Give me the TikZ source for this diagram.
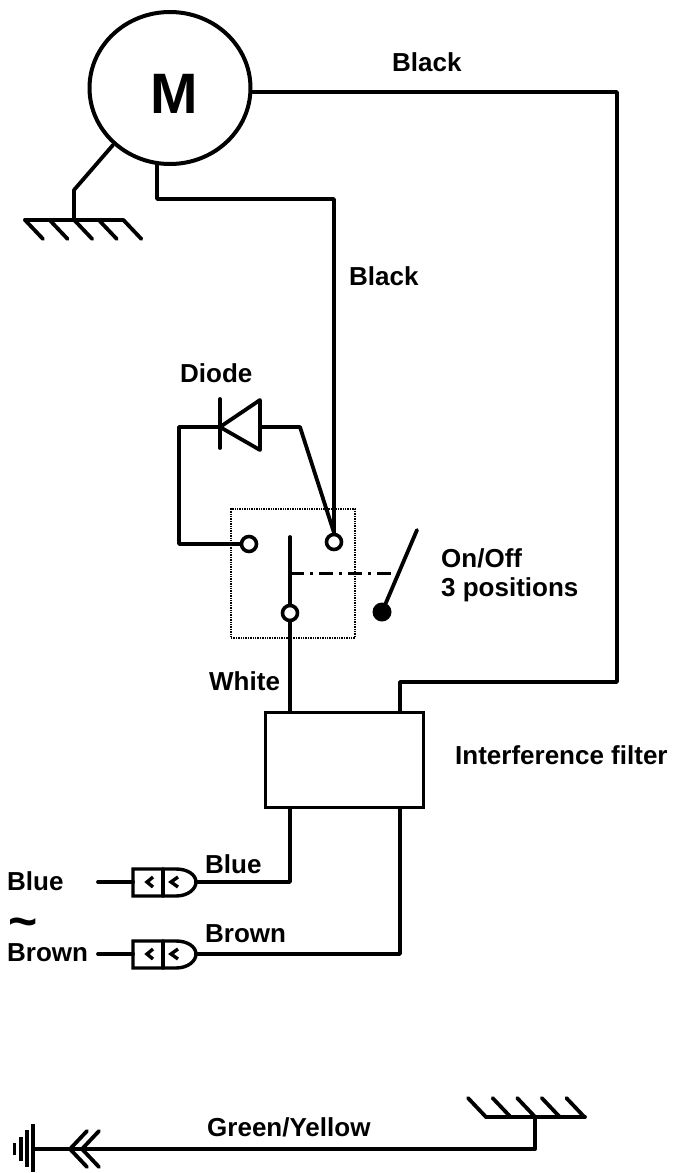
\documentclass[tikz,border=0pt]{standalone}
\usepackage{fontspec}
\setmainfont{Liberation Sans}
\usetikzlibrary{shapes.geometric}
\tikzset{
  wire/.style={line width=3.8pt,line cap=round,line join=round},
  thin wire/.style={line width=3.4pt,line cap=round,line join=miter},
  lbl/.style={font=\fontsize{26}{32}\selectfont\bfseries,inner sep=0pt,anchor=west,align=left},
  term/.style={circle,draw,fill=white,line width=3.6pt,minimum size=15pt,inner sep=0pt},
  pics/plug/.style={code={
    \draw[thin wire] (-21,-13) -- (22,-13) .. controls (34,-13) and (42,-7) .. (42,0) .. controls (42,7) and (34,14) .. (22,14) -- (-21,14) -- cycle;
    \draw[thin wire] (9,-13) -- (9,14);
    \draw[line width=3.4pt] (-1,-5) -- (-7,0) -- (-1,5);
    \draw[line width=3.4pt] (24,-5) -- (17,0) -- (24,5);
  }},
  pics/hatch/.style={code={
    \foreach \i in {0,1,2,3,4} \draw[wire] ({\i*24.6},0) -- ({\i*24.6+#1*18},#1*19);
  }}
}
\begin{document}
\begin{tikzpicture}[x=1pt,y=-1pt]
\useasboundingbox (0,0) rectangle (673,1173);
% motor
\node[ellipse,draw,line width=4pt,minimum width=161pt,minimum height=152pt,inner sep=0pt] (motor) at (170,88) {};
\node[font=\fontsize{57}{57}\selectfont\bfseries,inner sep=0pt] (mlabel) at (174,94) {M};
% coordinates
\coordinate (mr) at (253,92);
\coordinate (r1) at (617,92);
\coordinate (r2) at (617,682);
\coordinate (r3) at (400,682);
\coordinate (mb) at (157,165);
\coordinate (b1) at (157,199);
\coordinate (b2) at (334,199);
\coordinate (mg) at (113,145);
\coordinate (g1) at (74,190);
\coordinate (g2) at (74,220);
\coordinate (gl) at (25,220);
\coordinate (gr) at (123,220);
% filter
\node[draw,line width=3.8pt,minimum width=158pt,minimum height=95pt,inner sep=0pt] (filter) at (344.5,760) {};
\coordinate (fw) at (290,712);
\coordinate (fb) at (400,712);
\coordinate (fbl) at (290,808);
\coordinate (fbr) at (400,808);
% dotted box
\node[draw,densely dotted,line width=1.4pt,minimum width=124pt,minimum height=129pt,inner sep=0pt] (swbox) at (293,573.5) {};
% terminals
\node[term] (t1) at (249,544) {};
\node[term] (t2) at (334,542) {};
\node[term] (t3) at (290,613) {};
\node[circle,fill=black,minimum size=19pt,inner sep=0pt] (t4) at (382,612) {};
\coordinate (bladetop) at (290,537);
\coordinate (dd1) at (290,573);
\coordinate (dd2) at (398,573);
\coordinate (sw) at (417,530);
% diode
\coordinate (dtip) at (220,427);
\coordinate (dbu) at (260,400);
\coordinate (dbd) at (260,450);
\coordinate (dbm) at (260,427);
\coordinate (dbt) at (220,399);
\coordinate (dbb) at (220,448);
\coordinate (dl) at (179,427);
\coordinate (dld) at (179,544);
\coordinate (dr) at (300,427);
% connectors
\draw[wire] (mr) -- (r1) -- (r2) -- (r3) -- (fb);
\draw[wire] (mb) -- (b1) -- (b2) -- (t2.north);
\draw[wire] (mg) -- (g1) -- (g2);
\draw[wire] (gl) -- (gr);
\path (gl) pic {hatch=1};
\draw[wire] (dbt) -- (dbb);
\draw[wire] (dtip) -- (dbu) -- (dbd) -- cycle;
\draw[wire] (dtip) -- (dl) -- (dld) -- (t1.west);
\draw[wire] (dbm) -- (dr) -- (t2.north);
\draw[wire] (bladetop) -- (t3.north);
\draw[wire] (t3.south) -- (fw);
\draw[line width=3pt,dash pattern=on 14pt off 6pt on 3pt off 6pt] (dd1) -- (dd2);
\draw[wire] (sw) -- (t4.center);
% plugs
\coordinate (p1) at (154,882);
\coordinate (p2) at (154,954);
\path (p1) pic {plug};
\path (p2) pic {plug};
\coordinate (c1r) at (196,882);
\coordinate (c2r) at (196,954);
\coordinate (c1l) at (98,882);
\coordinate (c2l) at (98,954);
\coordinate (p1l) at (133,882);
\coordinate (p2l) at (133,954);
\coordinate (f1) at (290,882);
\coordinate (f2) at (400,954);
\draw[wire] (c1l) -- (p1l);
\draw[wire] (c2l) -- (p2l);
\draw[wire] (c1r) -- (f1) -- (fbl);
\draw[wire] (c2r) -- (f2) -- (fbr);
% earth wire
\coordinate (eh) at (33,1149);
\coordinate (etip) at (70,1149);
\coordinate (etip2) at (82,1149);
\coordinate (gbs) at (535,1149);
\coordinate (gbt) at (535,1117);
\coordinate (gbl) at (486,1117);
\coordinate (gbr) at (585,1117);
\draw[wire] (eh) -- (gbs) -- (gbt);
\draw[wire] (gbl) -- (gbr);
\path (gbl) pic {hatch=-1};
\draw[wire,line join=miter] (87,1131) -- (etip) -- (87,1167);
\draw[wire,line join=miter] (99,1131) -- (etip2) -- (99,1167);
\draw[line width=4pt] (33,1124) -- (33,1172);
\draw[line width=3.8pt] (27,1130) -- (27,1167);
\draw[line width=3.6pt] (21,1137) -- (21,1161);
\draw[line width=3.6pt] (14.5,1143) -- (14.5,1155);
% labels
\node[lbl] (l1) at (392,62) {Black};
\node[lbl] (l2) at (349,276) {Black};
\node[lbl] (l3) at (180,373) {Diode};
\node[lbl,anchor=west] (l4a) at (441,558) {On/Off};
\node[lbl,anchor=west] (l4b) at (441,590) {3 positions};
\node[lbl] (l5) at (209,681) {White};
\node[lbl] (l6) at (455,755) {Interference filter};
\node[lbl] (l7) at (7,881) {Blue};
\node[lbl] (l8) at (7,953) {Brown};
\node[lbl] (l9) at (205,864) {Blue};
\node[lbl] (l10) at (205,934) {Brown};
\node[lbl] (l11) at (207,1127) {Green/Yellow};
\node[font=\fontsize{50}{50}\selectfont\bfseries,inner sep=0pt] (l12) at (23,928) {\char"7E};
\end{tikzpicture}
\end{document}
